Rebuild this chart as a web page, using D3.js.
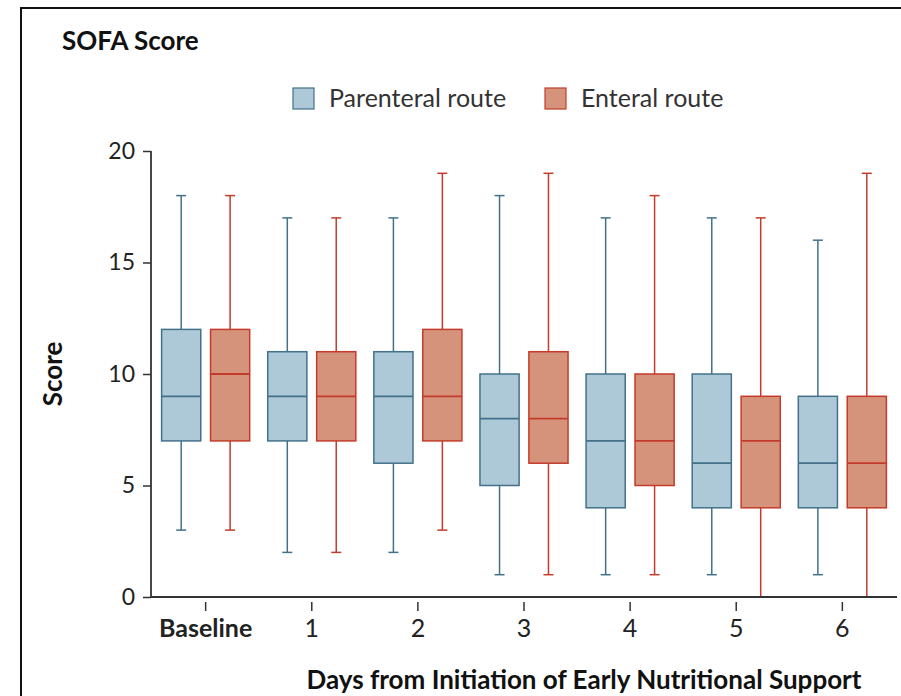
<!DOCTYPE html>
<html lang="en">
<head>
<meta charset="UTF-8">
<title>SOFA Score</title>
<script src="https://cdnjs.cloudflare.com/ajax/libs/d3/7.8.5/d3.min.js"></script>
<style>
  body { margin: 0; background: #fff; }
  text { font-family: Lato, "Open Sans", sans-serif; }
</style>
</head>
<body>
<div id="chart"></div>
<script>
// categories along x
const days = ["Baseline", "1", "2", "3", "4", "5", "6"];
const groups = ["Parenteral route", "Enteral route"];
// [min, q1, median, q3, max] per day
const parenteral = [
  [3, 7, 9, 12, 18],
  [2, 7, 9, 11, 17],
  [2, 6, 9, 11, 17],
  [1, 5, 8, 10, 18],
  [1, 4, 7, 10, 17],
  [1, 4, 6, 10, 17],
  [1, 4, 6, 9, 16]
];
const enteral = [
  [3, 7, 10, 12, 18],
  [2, 7, 9, 11, 17],
  [3, 7, 9, 12, 19],
  [1, 6, 8, 11, 19],
  [1, 5, 7, 10, 18],
  [0, 4, 7, 9, 17],
  [0, 4, 6, 9, 19]
];
const yTicks = [0, 5, 10, 15, 20];

const W = 901, H = 696;
const colors = {
  "Parenteral route": { fill: "#adc8d7", stroke: "#43718a" },
  "Enteral route": { fill: "#d6937c", stroke: "#c43b2b" }
};

const svg = d3.select("#chart").append("svg")
  .attr("width", W).attr("height", H);

// frame
svg.append("path")
  .attr("d", `M21,${H} V8 H${W}`)
  .attr("fill", "none").attr("stroke", "#111").attr("stroke-width", 2);

svg.append("text")
  .attr("x", 62).attr("y", 50)
  .attr("font-size", 26).attr("font-weight", "bold").attr("fill", "#111")
  .text("SOFA Score");

// scales
const x = d3.scaleBand().domain(days).range([151, 897]).paddingInner(0.17).paddingOuter(0.1);
const sub = d3.scaleBand().domain(groups).range([0, x.bandwidth()]).paddingInner(0.2);
const y = d3.scaleLinear().domain([0, 20]).range([597, 151]);

// legend
const legendX = [293, 545];
groups.forEach((g, i) => {
  svg.append("rect")
    .attr("x", legendX[i]).attr("y", 88).attr("width", 21).attr("height", 21)
    .attr("fill", colors[g].fill).attr("stroke", colors[g].stroke).attr("stroke-width", 1.2);
  svg.append("text")
    .attr("x", legendX[i] + 36).attr("y", 107)
    .attr("font-size", 25).attr("fill", "#333")
    .text(g);
});

// boxes
const series = [parenteral, enteral];
groups.forEach((g, gi) => {
  const c = colors[g];
  const gEl = svg.append("g");
  series[gi].forEach((s, di) => {
    const [mn, q1, md, q3, mx] = s;
    const x0 = x(days[di]) + sub(g);
    const bw = sub.bandwidth();
    const cx = x0 + bw / 2;
    gEl.append("line").attr("x1", cx).attr("x2", cx).attr("y1", y(mx)).attr("y2", y(q3))
      .attr("stroke", c.stroke).attr("stroke-width", 1.5);
    gEl.append("line").attr("x1", cx).attr("x2", cx).attr("y1", y(q1)).attr("y2", y(mn))
      .attr("stroke", c.stroke).attr("stroke-width", 1.5);
    [mn, mx].forEach(v => {
      if (v === 0) return;
      gEl.append("line").attr("x1", cx - 5).attr("x2", cx + 5).attr("y1", y(v)).attr("y2", y(v))
        .attr("stroke", c.stroke).attr("stroke-width", 1.5);
    });
    gEl.append("rect")
      .attr("x", x0).attr("y", y(q3)).attr("width", bw).attr("height", y(q1) - y(q3))
      .attr("fill", c.fill).attr("stroke", c.stroke).attr("stroke-width", 1.5);
    gEl.append("line").attr("x1", x0).attr("x2", x0 + bw).attr("y1", y(md)).attr("y2", y(md))
      .attr("stroke", c.stroke).attr("stroke-width", 1.8);
  });
});

// y axis
const yAxis = svg.append("g").attr("transform", "translate(151,0)")
  .call(d3.axisLeft(y).tickValues(yTicks).tickSize(8).tickPadding(8));
yAxis.select(".domain").attr("d", `M0,${y(20)}H0V${y(0)}`).attr("stroke", "#333").attr("stroke-width", 1.8);
yAxis.selectAll(".tick line").attr("stroke", "#333").attr("stroke-width", 1.5);
yAxis.selectAll(".tick text").attr("font-size", 23).attr("fill", "#222")
  .attr("font-family", "Lato, 'Open Sans', sans-serif");

// x axis
const xAxis = svg.append("g").attr("transform", `translate(0,${y(0)})`)
  .call(d3.axisBottom(x).tickSize(10).tickPadding(8));
xAxis.select(".domain").attr("d", `M151,0H897`).attr("stroke", "#333").attr("stroke-width", 1.8);
xAxis.selectAll(".tick line").attr("stroke", "#333").attr("stroke-width", 1.5).attr("y1", 5).attr("y2", 14);
xAxis.selectAll(".tick text").attr("font-size", 25).attr("fill", "#222")
  .attr("font-family", "Lato, 'Open Sans', sans-serif")
  .attr("font-weight", d => d === "Baseline" ? "bold" : "normal")
  .attr("y", 40).attr("dy", 0);

svg.append("text")
  .attr("transform", `translate(62,${y(10)}) rotate(-90)`)
  .attr("text-anchor", "middle")
  .attr("font-size", 26).attr("font-weight", "bold").attr("fill", "#111")
  .text("Score");

svg.append("text")
  .attr("x", 584).attr("y", 689)
  .attr("text-anchor", "middle")
  .attr("font-size", 26).attr("font-weight", "bold").attr("fill", "#111")
  .text("Days from Initiation of Early Nutritional Support");
</script>
</body>
</html>
